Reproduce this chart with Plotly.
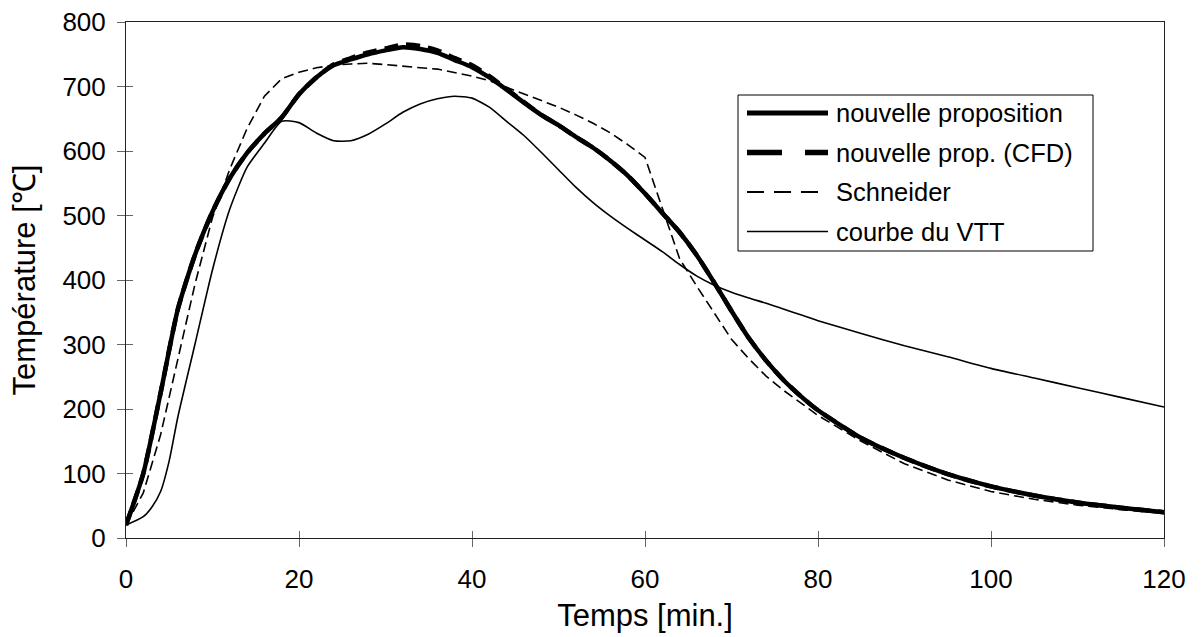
import plotly.graph_objects as go

# Temps [min.]
temps = [0, 2, 4, 6, 8, 10, 12, 14, 16, 18, 20, 22, 24, 26, 28, 30, 32, 34, 36, 38,
         40, 42, 44, 46, 48, 50, 52, 54, 56, 58, 60, 62, 64, 66, 68, 70, 72, 74, 76,
         78, 80, 85, 90, 95, 100, 105, 110, 115, 120]

# Températures [°C]
nouvelle_proposition = [20, 100, 225, 355, 440, 506, 558, 597, 627, 652, 688, 714, 733,
                        742, 750, 756, 761, 758, 752, 741, 730, 714, 695, 675, 656, 640,
                        622, 605, 585, 562, 534, 504, 474, 438, 396, 352, 310, 275, 245,
                        220, 198, 155, 124, 99, 80, 66, 55, 47, 40]

nouvelle_prop_cfd = [20, 100, 225, 355, 440, 506, 558, 597, 627, 652, 688, 714, 734,
                     744, 753, 759, 765, 763, 756, 744, 733, 716, 696, 676, 656, 640,
                     622, 605, 585, 562, 534, 504, 474, 438, 396, 352, 310, 275, 245,
                     220, 198, 155, 124, 99, 80, 66, 55, 47, 40]

schneider = [20, 70, 160, 280, 395, 497, 572, 635, 685, 712, 722, 729, 733, 735, 736,
             734, 731, 729, 727, 722, 716, 709, 699, 689, 678, 668, 656, 643, 628, 610,
             590, 510, 433, 390, 350, 308, 278, 251, 229, 210, 190, 150, 115, 90, 72,
             60, 51, 44, 38]

# Courbe du VTT, with its own time points (denser near the start)
temps_vtt = [0, 2, 3, 4, 5, 6, 8, 10, 12, 14, 16, 18, 20, 22, 24, 26, 28, 30, 32, 34,
             36, 38, 40, 42, 44, 46, 48, 50, 52, 54, 56, 58, 60, 62, 64, 66, 68, 70, 72,
             74, 76, 78, 80, 85, 90, 95, 100, 105, 110, 115, 120]
courbe_vtt = [20, 33, 48, 72, 120, 188, 302, 416, 510, 575, 612, 646, 644, 628, 616, 616,
              626, 642, 660, 673, 681, 685, 682, 668, 646, 624, 598, 571, 544, 520, 499,
              480, 462, 444, 424, 406, 392, 381, 372, 364, 355, 346, 337, 317, 298, 281,
              263, 248, 233, 218, 203]

series_names = ["nouvelle proposition", "nouvelle prop. (CFD)", "Schneider", "courbe du VTT"]

FONT = "Liberation Sans, Arial, sans-serif"
W, H = 1203, 637
M_L, M_R, M_T, M_B = 126, 39, 22, 99

fig = go.Figure()

fig.add_trace(go.Scatter(x=temps_vtt, y=courbe_vtt, mode="lines", name=series_names[3],
                         line=dict(color="black", width=1.6, shape="spline", smoothing=0.6)))
fig.add_trace(go.Scatter(x=temps, y=schneider, mode="lines", name=series_names[2],
                         line=dict(color="black", width=1.6, dash="10px,5px", shape="linear")))
fig.add_trace(go.Scatter(x=temps, y=nouvelle_prop_cfd, mode="lines", name=series_names[1],
                         line=dict(color="black", width=4.5, dash="14px,8px", shape="spline",
                                   smoothing=0.6)))
fig.add_trace(go.Scatter(x=temps, y=nouvelle_proposition, mode="lines", name=series_names[0],
                         line=dict(color="black", width=4.5, shape="spline", smoothing=0.6)))

# Overlay axes that carry the inner half of the crossing tick marks
fig.add_trace(go.Scatter(x=[None], y=[None], xaxis="x2", yaxis="y2", showlegend=False,
                         hoverinfo="skip"))

axis_common = dict(showgrid=False, zeroline=False, showline=True, linecolor="#222",
                   linewidth=1, ticks="outside", ticklen=8, tickwidth=1, tickcolor="#666",
                   automargin=False,
                   tickfont=dict(family=FONT, size=26, color="black"))

fig.update_layout(
    width=W, height=H,
    margin=dict(l=M_L, r=M_R, t=M_T, b=M_B),
    paper_bgcolor="white", plot_bgcolor="white",
    showlegend=False,
    xaxis=dict(range=[0, 120], dtick=20, mirror=True, ticklabelstandoff=10,
               title=dict(text="Temps [min.]", font=dict(family=FONT, size=31, color="black"),
                          standoff=11),
               **axis_common),
    yaxis=dict(range=[0, 800], dtick=100, mirror=True, ticklabelstandoff=6,
               title=dict(text="Température [℃]", font=dict(family=FONT, size=31, color="black"),
                          standoff=17),
               **axis_common),
    xaxis2=dict(overlaying="x", matches="x", range=[0, 120], dtick=20, showgrid=False,
                zeroline=False, showline=False, ticks="inside", ticklen=7, tickcolor="#666",
                showticklabels=False, anchor="y2", side="bottom"),
    yaxis2=dict(overlaying="y", matches="y", range=[0, 800], dtick=100, showgrid=False,
                zeroline=False, showline=False, ticks="inside", ticklen=7, tickcolor="#666",
                showticklabels=False, anchor="x2", side="left"),
)

# Legend box, drawn in plot-area fractions
pw, ph = W - M_L - M_R, H - M_T - M_B


def px_x(p):
    return (p - M_L) / pw


def px_y(p):
    return (H - M_B - p) / ph


fig.add_shape(type="rect", xref="paper", yref="paper",
              x0=px_x(738), x1=px_x(1093), y0=px_y(251), y1=px_y(95),
              line=dict(color="black", width=1), fillcolor="white", layer="above")

legend_rows = [113, 152.5, 192, 231.5]
legend_styles = [
    dict(color="black", width=5),
    dict(color="black", width=5.5, dash="35px,23px"),
    dict(color="black", width=2, dash="17px,10px"),
    dict(color="black", width=1.6),
]
for name, row, style in zip(series_names, legend_rows, legend_styles):
    fig.add_shape(type="line", xref="paper", yref="paper",
                  x0=px_x(747), x1=px_x(828), y0=px_y(row), y1=px_y(row),
                  line=style, layer="above")
    fig.add_annotation(text=name, xref="paper", yref="paper", x=px_x(834), y=px_y(row),
                       xanchor="left", yanchor="middle", showarrow=False,
                       font=dict(family=FONT, size=25.5, color="black"))

fig.write_html("out.html")
